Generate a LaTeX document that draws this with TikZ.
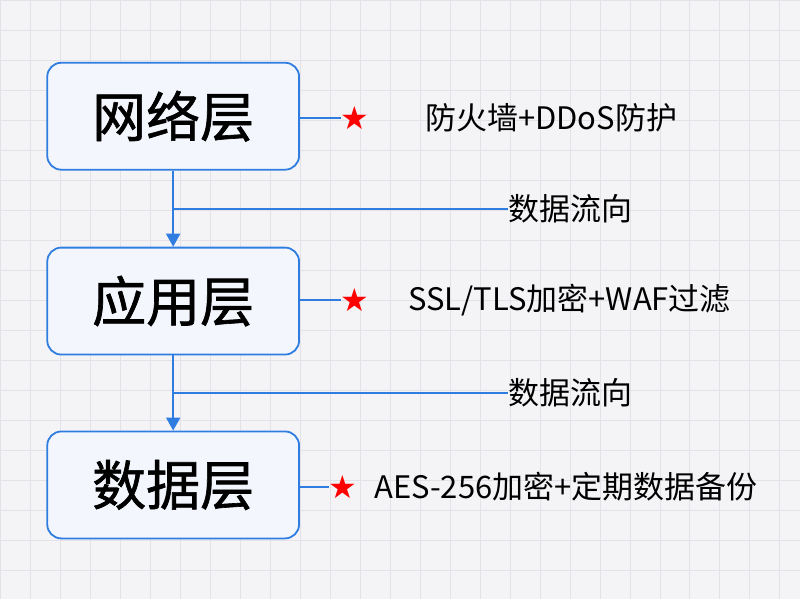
\documentclass[tikz,border=0pt]{standalone}
\usepackage{fontspec}
\newfontfamily\cjk{Noto Sans CJK SC}
\newfontfamily\cjkm[FakeBold=1.2]{Noto Sans CJK SC}
\newfontfamily\sym{DejaVu Sans}
\usetikzlibrary{arrows.meta}
\definecolor{bl}{HTML}{2F7DE1}
\definecolor{bgc}{HTML}{F4F4F6}
\definecolor{gr}{HTML}{E2E2E8}
\definecolor{bf}{HTML}{F3F7FD}
\begin{document}
\begin{tikzpicture}[x=1pt,y=-1pt,
  layer/.style={draw=bl,line width=1.8pt,fill=bf,rounded corners=14pt,minimum width=252pt,minimum height=107pt,font=\cjkm\fontsize{54}{56}\selectfont},
  star/.style={text=red,font=\sym\fontsize{32}{34}\selectfont,inner sep=0pt},
  lab/.style={font=\cjk\fontsize{31}{34}\selectfont,inner sep=0pt,anchor=west},
  ln/.style={draw=bl,line width=1.8pt},
  arr/.style={ln,-{Triangle[length=13pt,width=14pt]}}]
\fill[bgc] (0,0) rectangle (800,599);
\foreach \x in {0,30,...,800} \draw[gr,line width=0.6pt] (\x,0) -- (\x,599);
\foreach \y in {0,30,...,599} \draw[gr,line width=0.6pt] (0,\y) -- (800,\y);
\useasboundingbox (0,0) rectangle (800,599);
\node[layer] (n1) at (173,116) {网络层};
\node[layer] (n2) at (173,301) {应用层};
\node[layer] (n3) at (173,485) {数据层};
\node[star] (s1) at (355,118) {★};
\node[star] (s2) at (355,300) {★};
\node[star] (s3) at (343,487) {★};
\node[lab] (t1) at (425,118) {防火墙+DDoS防护};
\node[lab] (t2) at (408,300) {SSL/TLS加密+WAF过滤};
\node[lab] (t3) at (374,487) {AES-256加密+定期数据备份};
\node[lab] (f1) at (508,209) {数据流向};
\node[lab] (f2) at (508,393) {数据流向};
\draw[ln] (n1.east |- s1) -- (s1.west);
\draw[ln] (n2.east |- s2) -- (s2.west);
\draw[ln] (n3.east |- s3) -- (s3.west);
\draw[arr] (n1.south) -- (n2.north);
\draw[arr] (n2.south) -- (n3.north);
\draw[ln] (n1.south |- f1.west) -- (f1.west);
\draw[ln] (n2.south |- f2.west) -- (f2.west);
\end{tikzpicture}
\end{document}
